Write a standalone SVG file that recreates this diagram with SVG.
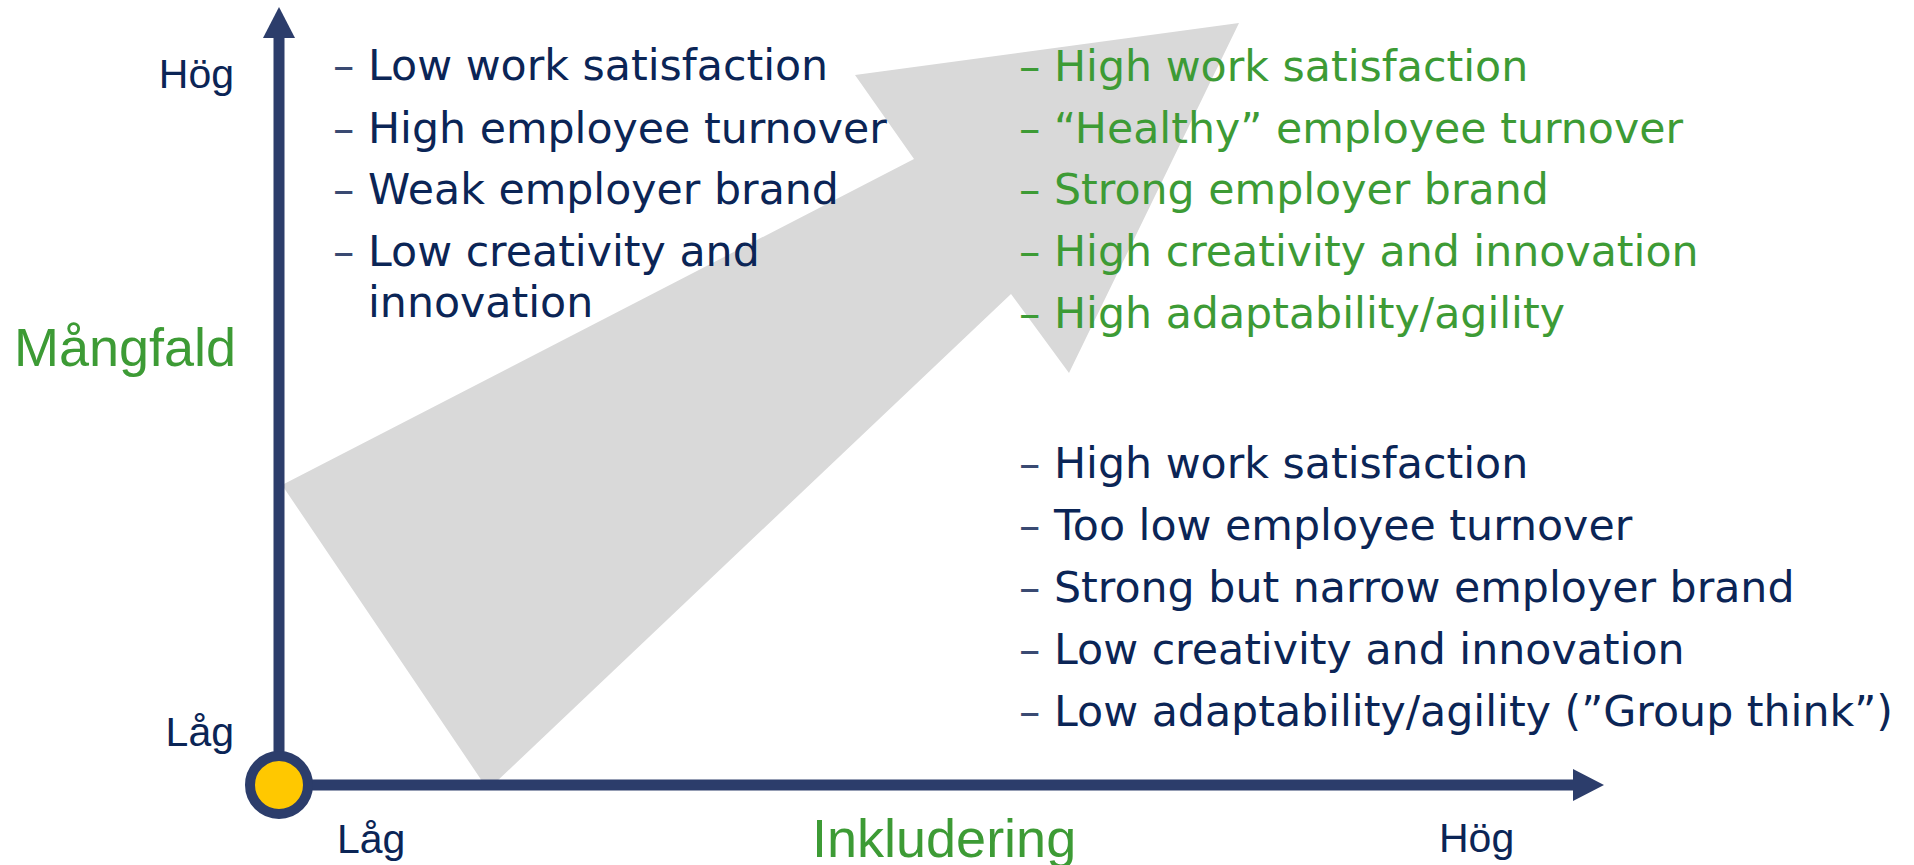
<svg xmlns="http://www.w3.org/2000/svg" width="1914" height="865" viewBox="0 0 1914 865">
<style>
.item{font-family:"DejaVu Sans",Verdana,sans-serif;font-size:42.7px}
.navy{fill:#0B2556}
.navyd{fill:#3A4A72}
.green{fill:#3D9B35}
.lbl{font-family:"Liberation Sans",Arial,sans-serif;font-size:41px;fill:#0B2556}
.axt{font-family:"Liberation Sans",Arial,sans-serif;font-size:54px;fill:#3D9B35}
.axis{stroke:#2C3D6B;stroke-width:11;fill:none}
</style>
<defs>
<marker id="ah" markerUnits="userSpaceOnUse" markerWidth="32" markerHeight="32" refX="0" refY="16" orient="auto" overflow="visible">
<path d="M0,0 L31,16 L0,32 Z" fill="#2C3D6B"/>
</marker>
</defs>
<g id="big-arrow">
<polygon points="1239,23 1069,373 1011,294 494,784 484,784 282,485 914,159 855,75" fill="#D9D9D9"/>
</g>
<g id="connectors">
<line class="axis" x1="279" y1="785" x2="279" y2="38" marker-end="url(#ah)"/>
<line class="axis" x1="279" y1="785" x2="1573" y2="785" marker-end="url(#ah)"/>
</g>
<g id="origin">
<circle cx="279" cy="785" r="29" fill="#FFC800" stroke="#2C3D6B" stroke-width="10"/>
</g>
<g id="axis-labels">
<text class="lbl" x="234" y="88" text-anchor="end">Hög</text>
<text class="lbl" x="234" y="746" text-anchor="end">Låg</text>
<text class="lbl" x="337" y="853">Låg</text>
<text class="lbl" x="1439" y="852">Hög</text>
<text class="axt" x="14" y="366">Mångfald</text>
<text class="axt" x="812" y="857">Inkludering</text>
</g>
<g id="top-left" class="item">
<text class="navyd" x="333" y="80">–</text><text class="navy" x="368" y="80">Low work satisfaction</text>
<text class="navyd" x="333" y="143">–</text><text class="navy" x="368" y="143">High employee turnover</text>
<text class="navyd" x="333" y="204">–</text><text class="navy" x="368" y="204">Weak employer brand</text>
<text class="navyd" x="333" y="266">–</text><text class="navy" x="368" y="266">Low creativity and</text>
<text class="navy" x="368" y="317">innovation</text>
</g>
<g id="top-right" class="item">
<text class="green" x="1019" y="81">–</text><text class="green" x="1054" y="81">High work satisfaction</text>
<text class="green" x="1019" y="143">–</text><text class="green" x="1054" y="143">“Healthy” employee turnover</text>
<text class="green" x="1019" y="204">–</text><text class="green" x="1054" y="204">Strong employer brand</text>
<text class="green" x="1019" y="266">–</text><text class="green" x="1054" y="266">High creativity and innovation</text>
<text class="green" x="1019" y="328">–</text><text class="green" x="1054" y="328">High adaptability/agility</text>
</g>
<g id="bottom-right" class="item">
<text class="navyd" x="1019" y="478">–</text><text class="navy" x="1054" y="478">High work satisfaction</text>
<text class="navyd" x="1019" y="540">–</text><text class="navy" x="1054" y="540">Too low employee turnover</text>
<text class="navyd" x="1019" y="602">–</text><text class="navy" x="1054" y="602">Strong but narrow employer brand</text>
<text class="navyd" x="1019" y="664">–</text><text class="navy" x="1054" y="664">Low creativity and innovation</text>
<text class="navyd" x="1019" y="726">–</text><text class="navy" x="1054" y="726">Low adaptability/agility (”Group think”)</text>
</g>
</svg>
